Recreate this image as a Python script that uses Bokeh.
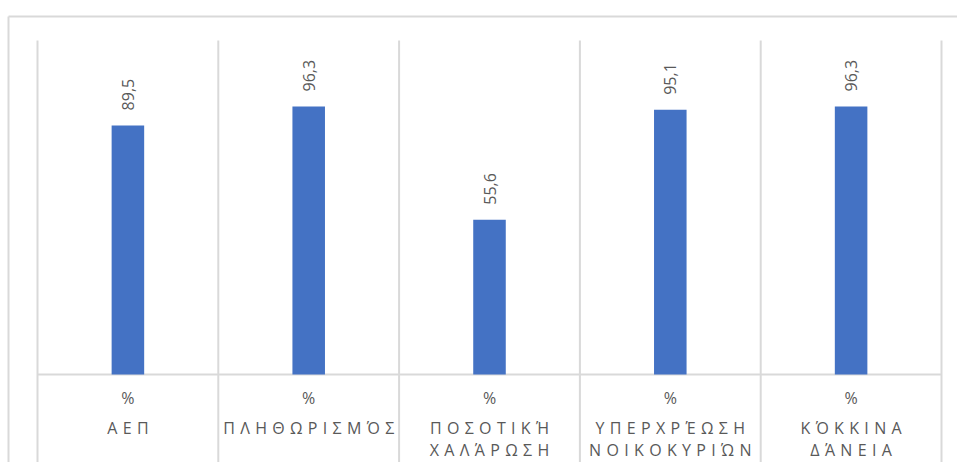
import math
from bokeh.plotting import figure
from bokeh.models import Range1d, ColumnDataSource
from bokeh.core.properties import value
from bokeh.embed import file_html
from bokeh.resources import INLINE

# ---- data ----
categories = ["ΑΕΠ", "ΠΛΗΘΩΡΙΣΜΌΣ", "ΠΟΣΟΤΙΚΉ ΧΑΛΆΡΩΣΗ", "ΥΠΕΡΧΡΈΩΣΗ ΝΟΙΚΟΚΥΡΙΏΝ", "ΚΌΚΚΙΝΑ ΔΆΝΕΙΑ"]
unit_label = "%"
values = [89.5, 96.3, 55.6, 95.1, 96.3]
y_max = 120

# ---- styling / layout ----
FONT = "Open Sans"
TEXT_COLOR = "#595959"
GRID_COLOR = "#d9d9d9"
BAR_COLOR = "#4472C4"
W, H = 957, 462
PL, PT = 37, 40          # left / top pixel of the plotting area
PR, PB = 941, 374        # right / bottom pixel of the plotting area
FRAME_L, FRAME_T = 6, 14  # frame origin (leaves room for the outer border)
BORDER_L, BORDER_T = 8, 16

n = len(categories)
px_per_cat = (PR - PL) / n
px_per_y = (PB - PT) / y_max


def x_of_px(px):
    return (px - PL) / px_per_cat


def y_of_px(py):
    return (PB - py) / px_per_y


def spaced(name):
    # emulate the wide character spacing of the original labels
    return "\n".join("\u2004".join(word) for word in name.split(" "))


xc = [i + 0.5 for i in range(n)]
labels = [f"{v:.1f}".replace(".", ",") for v in values]
src = ColumnDataSource(dict(x=xc, top=values, lbl=labels,
                            cat=[spaced(c) for c in categories],
                            unit=[unit_label] * n))

p = figure(
    x_range=Range1d(x_of_px(FRAME_L), x_of_px(W)),
    y_range=Range1d(y_of_px(H), y_of_px(FRAME_T)),
    width=W, height=H,
    output_backend="svg", toolbar_location=None,
    x_axis_location=None, y_axis_location=None,
    min_border_left=FRAME_L, min_border_right=0,
    min_border_top=FRAME_T, min_border_bottom=0,
)
p.outline_line_color = None
p.grid.visible = False
p.background_fill_color = "white"
p.border_fill_color = "white"

y_low = y_of_px(H + 10)

# outer chart border (left and top edges visible)
p.segment(x0=[x_of_px(BORDER_L)], y0=[y_low], x1=[x_of_px(BORDER_L)], y1=[y_of_px(BORDER_T)],
          line_color=GRID_COLOR, line_width=2)
p.segment(x0=[x_of_px(BORDER_L)], y0=[y_of_px(BORDER_T)], x1=[x_of_px(W + 10)], y1=[y_of_px(BORDER_T)],
          line_color=GRID_COLOR, line_width=2)

# vertical category separators (plot area + label area)
bounds = list(range(n + 1))
p.segment(x0=bounds, y0=[y_low] * (n + 1), x1=bounds, y1=[y_max] * (n + 1),
          line_color=GRID_COLOR, line_width=2)

# category axis line
p.segment(x0=[0], y0=[0], x1=[n], y1=[0], line_color=GRID_COLOR, line_width=2)

# bars
p.vbar(x="x", top="top", width=0.18, source=src, fill_color=BAR_COLOR, line_color=None)

# data labels
p.text(x="x", y="top", text="lbl", source=src, angle=math.pi / 2,
       text_align="left", text_baseline="middle", y_offset=-15,
       text_font=value(FONT), text_font_size="16px", text_color=TEXT_COLOR)

# category axis labels: unit row and category names
p.text(x="x", y=y_of_px(397), text="unit", source=src,
       text_align="center", text_baseline="middle",
       text_font=value(FONT), text_font_size="16px", text_color=TEXT_COLOR)
p.text(x="x", y=y_of_px(416), text="cat", source=src,
       text_align="center", text_baseline="top", text_line_height=1.04,
       text_font=value(FONT), text_font_size="16px", text_color=TEXT_COLOR)

open("out.html", "w").write(file_html(p, INLINE))
